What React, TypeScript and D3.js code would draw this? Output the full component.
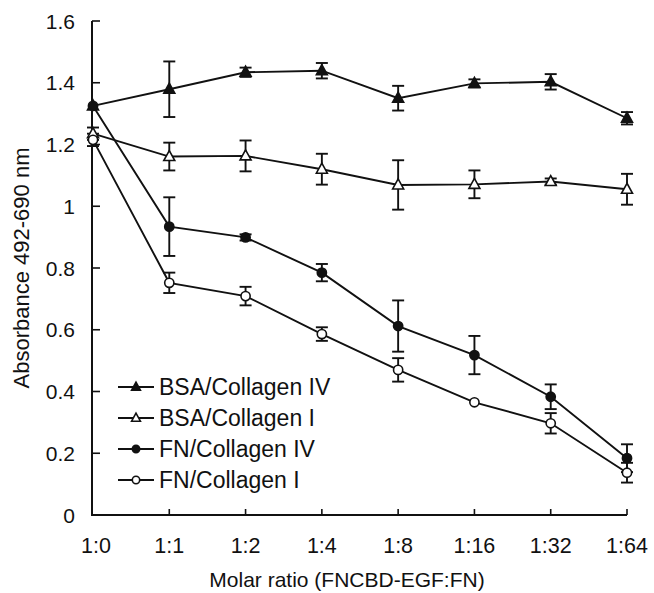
import React from "react";
import * as d3 from "d3";

const categories = ["1:0", "1:1", "1:2", "1:4", "1:8", "1:16", "1:32", "1:64"];
const yTicks = [0, 0.2, 0.4, 0.6, 0.8, 1, 1.2, 1.4, 1.6];

const bsaCol4 = [1.325, 1.379, 1.434, 1.439, 1.35, 1.398, 1.403, 1.285];
const bsaCol4Err = [0.0, 0.09, 0.015, 0.025, 0.04, 0.013, 0.025, 0.02];
const bsaCol1 = [1.235, 1.161, 1.163, 1.12, 1.069, 1.071, 1.08, 1.055];
const bsaCol1Err = [0.02, 0.045, 0.05, 0.05, 0.08, 0.045, 0.01, 0.05];
const fnCol4 = [1.325, 0.934, 0.899, 0.785, 0.612, 0.518, 0.383, 0.184];
const fnCol4Err = [0.0, 0.095, 0.01, 0.028, 0.083, 0.062, 0.04, 0.045];
const fnCol1 = [1.215, 0.752, 0.709, 0.586, 0.47, 0.365, 0.297, 0.137];
const fnCol1Err = [0.02, 0.033, 0.03, 0.022, 0.038, 0.0, 0.033, 0.032];

const seriesNames = ["BSA/Collagen IV", "BSA/Collagen I", "FN/Collagen IV", "FN/Collagen I"];
const seriesMarkers = ["triFilled", "triOpen", "circFilled", "circOpen"];

const FONT = "'Liberation Sans', Arial, Helvetica, sans-serif";
const INK = "#111";

function Marker({ type, x, y, s = 1 }: { type: string; x: number; y: number; s?: number }) {
  if (type.startsWith("tri")) {
    const h = 10 * s;
    const w = 11 * s;
    const pts = `${x},${y - h * 0.6} ${x - w / 2},${y + h * 0.4} ${x + w / 2},${y + h * 0.4}`;
    return (
      <polygon
        points={pts}
        fill={type === "triFilled" ? INK : "#fff"}
        stroke={INK}
        strokeWidth={1.6}
        strokeLinejoin="miter"
      />
    );
  }
  return (
    <circle
      cx={x}
      cy={y}
      r={4.6 * s}
      fill={type === "circFilled" ? INK : "#fff"}
      stroke={INK}
      strokeWidth={1.6}
    />
  );
}

export default function App() {
  const width = 654;
  const height = 593;
  const x = d3.scalePoint<string>().domain(categories).range([93, 627]);
  const y = d3.scaleLinear().domain([0, 1.6]).range([515, 21]);

  const series = [
    { name: seriesNames[0], values: bsaCol4, errs: bsaCol4Err, marker: seriesMarkers[0] },
    { name: seriesNames[1], values: bsaCol1, errs: bsaCol1Err, marker: seriesMarkers[1] },
    { name: seriesNames[2], values: fnCol4, errs: fnCol4Err, marker: seriesMarkers[2] },
    { name: seriesNames[3], values: fnCol1, errs: fnCol1Err, marker: seriesMarkers[3] },
  ];

  const line = d3
    .line<number>()
    .x((_, i) => x(categories[i]) as number)
    .y((d) => y(d));

  const capW = 6;

  return (
    <svg
      width={width}
      height={height}
      style={{ position: "absolute", left: 0, top: 0, background: "#fff" }}
    >
      <rect x={0} y={0} width={width} height={height} fill="#fff" />
      {/* axes */}
      <line x1={92} x2={92} y1={y(1.6)} y2={y(0)} stroke={INK} strokeWidth={2} />
      <line x1={91} x2={627} y1={y(0)} y2={y(0)} stroke={INK} strokeWidth={2} />
      {yTicks.map((t) => (
        <g key={"yt" + t}>
          <line x1={92} x2={100} y1={y(t)} y2={y(t)} stroke={INK} strokeWidth={1.6} />
          <text
            x={75}
            y={y(t)}
            dy="0.36em"
            textAnchor="end"
            fontFamily={FONT}
            fontSize={21}
            fill={INK}
          >
            {String(t)}
          </text>
        </g>
      ))}
      {categories.map((c, i) => (
        <g key={"xt" + c}>
          {i > 0 && (
            <line
              x1={x(c) as number}
              x2={x(c) as number}
              y1={y(0)}
              y2={y(0) - 6}
              stroke={INK}
              strokeWidth={1.6}
            />
          )}
          <text
            x={(x(c) as number) + (i === 0 ? 3 : 0)}
            y={553}
            textAnchor="middle"
            fontFamily={FONT}
            fontSize={21.5}
            fill={INK}
          >
            {c}
          </text>
        </g>
      ))}
      <text
        x={347}
        y={587}
        textAnchor="middle"
        fontFamily={FONT}
        fontSize={21}
        fill={INK}
      >
        Molar ratio (FNCBD-EGF:FN)
      </text>
      <text
        transform={`translate(29,${(y(0) + y(1.6)) / 2}) rotate(-90)`}
        textAnchor="middle"
        fontFamily={FONT}
        fontSize={22}
        fill={INK}
      >
        Absorbance 492-690 nm
      </text>

      {/* lines */}
      {series.map((s) => (
        <path
          key={"l" + s.name}
          d={line(s.values) as string}
          fill="none"
          stroke={INK}
          strokeWidth={1.9}
        />
      ))}
      {/* error bars */}
      {series.map((s) =>
        s.values.map((v, i) => {
          const e = s.errs[i];
          if (!e) return null;
          const cx = x(categories[i]) as number;
          return (
            <g key={"e" + s.name + i} stroke={INK} strokeWidth={1.9}>
              <line x1={cx} x2={cx} y1={y(v + e)} y2={y(v - e)} />
              <line x1={cx - capW} x2={cx + capW} y1={y(v + e)} y2={y(v + e)} />
              <line x1={cx - capW} x2={cx + capW} y1={y(v - e)} y2={y(v - e)} />
            </g>
          );
        })
      )}
      {/* markers */}
      {series.map((s) =>
        s.values.map((v, i) => (
          <Marker
            key={"m" + s.name + i}
            type={s.marker}
            x={x(categories[i]) as number}
            y={y(v)}
          />
        ))
      )}

      {/* legend */}
      {series.map((s, i) => {
        const ly = 387 + i * 31;
        return (
          <g key={"lg" + s.name}>
            <line x1={118} x2={154} y1={ly} y2={ly} stroke={INK} strokeWidth={1.8} />
            <Marker type={s.marker} x={136} y={ly} s={0.8} />
            <text
              x={159}
              y={ly}
              dy="0.36em"
              fontFamily={FONT}
              fontSize={23}
              fill={INK}
            >
              {s.name}
            </text>
          </g>
        );
      })}
    </svg>
  );
}
